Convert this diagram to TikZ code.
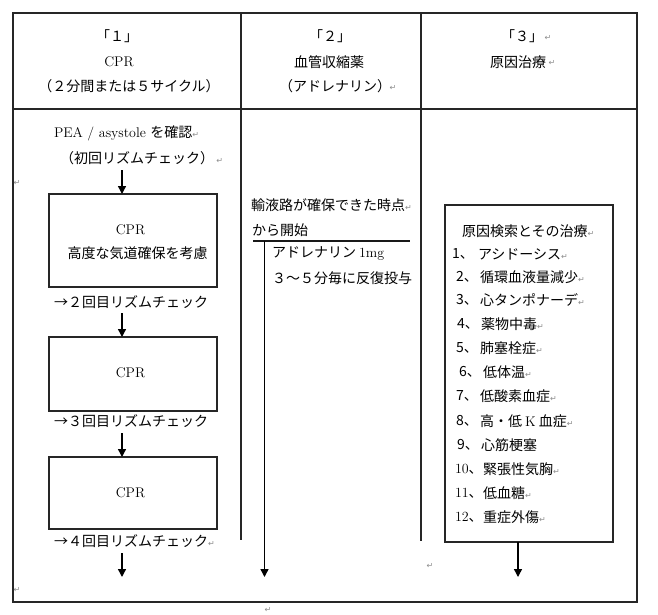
\documentclass[tikz,border=0pt]{standalone}
\usepackage{fontspec}
\newfontfamily\jp{Noto Sans CJK JP}
\newfontfamily\dv{DejaVu Sans}
\usetikzlibrary{arrows.meta}
\newcommand\lmr{\rmfamily\addfontfeature{FakeBold=0.4}}
\newcommand\retm{{\dv\fontsize{8}{8}\selectfont\textcolor{black!45}{↵}}}
\begin{document}
\begin{tikzpicture}[x=1pt,y=-1pt,
  every node/.style={inner sep=0pt, outer sep=0pt},
  jt/.style={font=\jp\fontsize{14}{16}\selectfont},
  lt/.style={font=\lmr\fontsize{14}{16}\selectfont},
  rmark/.style={font=\dv\fontsize{8}{8}\selectfont, text=black!45},
  frame/.style={line width=1.7pt, draw=black!85},
  cprbox/.style={draw=black!85, line width=1.5pt, minimum width=168pt},
  rule/.style={line width=1.4pt, draw=black!90},
  flow/.style={line width=1.4pt, draw=black, -{Triangle[length=8pt,width=8pt]}},
]
\useasboundingbox (0,0) rectangle (658,615);

% table frame
\draw[frame] (13,13) rectangle (637,602);
\draw[frame] (13,109) -- (637,109);
\draw[frame] (241,13) -- (241,540);
\draw[frame] (421,13) -- (421,541);

% headers
\node[jt] (h1a) at (117,36) {「１」};
\node[lt] (h1b) at (119,62) {CPR};
\node[jt] (h1c) at (129,86) {（２分間または５サイクル）};
\node[jt] (h2a) at (330,36) {「２」};
\node[jt] (h2b) at (329,62) {血管収縮薬};
\node[jt] (h2c) at (335,86) {（アドレナリン）};
\node[rmark] (h2r) at (393,88) {↵};
\node[jt] (h3a) at (522,36) {「３」};
\node[rmark] (h3r) at (548,38) {↵};
\node[jt] (h3b) at (518,62) {原因治療};
\node[rmark] (h3s) at (552,63) {↵};

% left column
\node[anchor=west] (pea) at (54,133) {\lmr\fontsize{14}{16}\selectfont PEA / asystole {\jp を確認}\retm};
\node[jt, anchor=west] (first) at (60,158) {（初回リズムチェック）\,\retm};
\node[rmark] (lr1) at (17,183) {↵};
\node[cprbox, minimum height=93pt] (b1) at (133,240.5) {};
\node[lt] (b1a) at (130.5,230) {CPR};
\node[jt] (b1b) at (137.5,253) {高度な気道確保を考慮};
\node[jt, anchor=west] (c2) at (54,302) {→２回目リズムチェック};
\node[cprbox, minimum height=74pt] (b2) at (133,374) {};
\node[lt] (b2a) at (130.5,373) {CPR};
\node[jt, anchor=west] (c3) at (54,421) {→３回目リズムチェック};
\node[cprbox, minimum height=72pt] (b3) at (133,493) {};
\node[lt] (b3a) at (130.5,493) {CPR};
\node[jt, anchor=west] (c4) at (54,541) {→４回目リズムチェック\retm};
\node[rmark] (lr2) at (17,590) {↵};

\coordinate (s1) at (122,170);
\coordinate (s2) at (122,313);
\coordinate (s3) at (122,433);
\coordinate (s4) at (122,553);
\coordinate (e4) at (122,577);
\draw[flow] (s1) -- (s1 |- b1.north);
\draw[flow] (s2) -- (s2 |- b2.north);
\draw[flow] (s3) -- (s3 |- b3.north);
\draw[flow] (s4) -- (e4);

% middle column
\node[jt, anchor=west] (m1) at (251,205) {輸液路が確保できた時点\retm};
\node[jt, anchor=west] (m2) at (252,230) {から開始};
\coordinate (ha) at (253,241);
\coordinate (hb) at (410,241);
\draw[rule] (ha) -- (hb);
\node[anchor=west] (m3) at (272,254) {\jp\fontsize{14}{16}\selectfont アドレナリン {\lmr 1mg}};
\node[jt, anchor=west] (m4) at (272,278) {３～５分毎に反復投与};
\coordinate (v0) at (264.5,241);
\coordinate (v1) at (264.5,577);
\draw[flow] (v0) -- (v1);
\node[rmark] (mr1) at (430,566) {↵};
\node[rmark] (mr2) at (268,610) {↵};

% right column
\node[cprbox, minimum width=168pt, minimum height=337pt] (rb) at (529,373.5) {};
\node[jt, anchor=west] (rt) at (462,231) {原因検索とその治療\retm};
\node[jt, anchor=west] (n1) at (452,254) {1、};
\node[jt, anchor=west] (t1) at (478,254) {アシドーシス\retm};
\node[jt, anchor=west] (n2) at (456,277) {2、};
\node[jt, anchor=west] (t2) at (480,277) {循環血液量減少\retm};
\node[jt, anchor=west] (n3) at (456,300) {3、};
\node[jt, anchor=west] (t3) at (480,300) {心タンポナーデ\retm};
\node[jt, anchor=west] (n4) at (457,324) {4、};
\node[jt, anchor=west] (t4) at (481,324) {薬物中毒\retm};
\node[jt, anchor=west] (n5) at (456,348) {5、};
\node[jt, anchor=west] (t5) at (480,348) {肺塞栓症\retm};
\node[jt, anchor=west] (n6) at (459,372) {6、};
\node[jt, anchor=west] (t6) at (483,372) {低体温\retm};
\node[jt, anchor=west] (n7) at (456,396) {7、};
\node[jt, anchor=west] (t7) at (480,396) {低酸素血症\retm};
\node[jt, anchor=west] (n8) at (456,421) {8、};
\node[jt, anchor=west] (t8) at (480,421) {高・低 {\lmr K} 血症\retm};
\node[jt, anchor=west] (n9) at (457,445) {9、};
\node[jt, anchor=west] (t9) at (481,445) {心筋梗塞};
\node[anchor=west] (n10) at (455,469) {{\lmr\fontsize{14}{16}\selectfont 10}{\jp\fontsize{14}{16}\selectfont 、}};
\node[jt, anchor=west] (t10) at (483,469) {緊張性気胸\retm};
\node[anchor=west] (n11) at (455,493) {{\lmr\fontsize{14}{16}\selectfont 11}{\jp\fontsize{14}{16}\selectfont 、}};
\node[jt, anchor=west] (t11) at (483,493) {低血糖\retm};
\node[anchor=west] (n12) at (455,517) {{\lmr\fontsize{14}{16}\selectfont 12}{\jp\fontsize{14}{16}\selectfont 、}};
\node[jt, anchor=west] (t12) at (483,517) {重症外傷\retm};
\coordinate (r0) at (rb.south -| 518,0);
\coordinate (r1) at (518,577);
\draw[flow] (r0) -- (r1);
\end{tikzpicture}
\end{document}
